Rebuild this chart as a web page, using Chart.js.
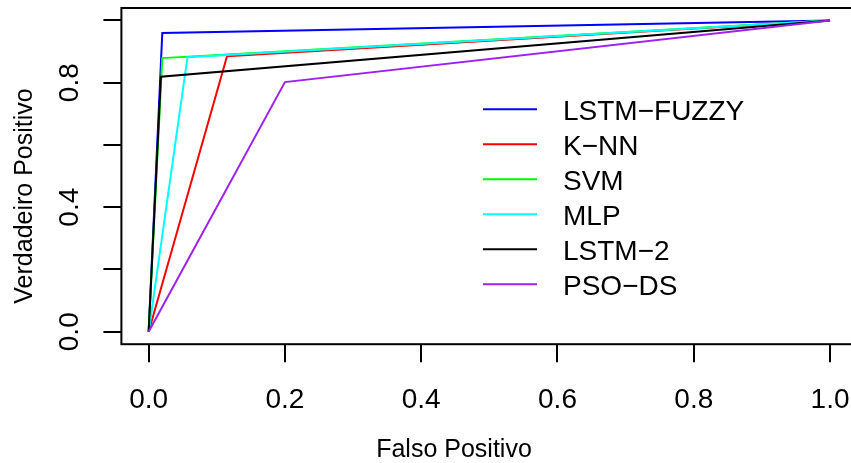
<!DOCTYPE html>
<html>
<head>
<meta charset="utf-8">
<script src="https://cdn.jsdelivr.net/npm/chart.js@4.4.0/dist/chart.umd.min.js"></script>
<style>
  html, body { margin: 0; padding: 0; background: #fff; overflow: hidden; }
  canvas { display: block; }
</style>
</head>
<body>
<canvas id="rocChart" width="860" height="463"></canvas>
<script>
// Curvas ROC
const seriesNames = ["LSTM−FUZZY", "K−NN", "SVM", "MLP", "LSTM−2", "PSO−DS"];
const seriesColors = ["#0000FF", "#FF0000", "#00FF00", "#00FFFF", "#000000", "#A020F0"];
const falsoPositivo = [
  [0, 0.02, 1],
  [0, 0.115, 1],
  [0, 0.02, 1],
  [0, 0.057, 1],
  [0, 0.018, 1],
  [0, 0.2, 1],
];
const verdadeiroPositivo = [
  [0, 0.96, 1],
  [0, 0.885, 1],
  [0, 0.879, 1],
  [0, 0.882, 1],
  [0, 0.819, 1],
  [0, 0.802, 1],
];
const xTicks = [0, 0.2, 0.4, 0.6, 0.8, 1.0];
const yTicks = [0, 0.2, 0.4, 0.6, 0.8, 1.0];
const yTickLabels = ["0.0", "", "0.4", "", "0.8", ""];
const xTitle = "Falso Positivo";
const yTitle = "Verdadeiro Positivo";

const FONT = "'Liberation Sans', Arial, sans-serif";

// Caixa, títulos dos eixos e legenda no estilo do R
const rPlotExtras = {
  id: "rPlotExtras",
  afterDraw(chart) {
    const { ctx, chartArea } = chart;
    ctx.save();
    ctx.strokeStyle = "#000";
    ctx.lineWidth = 2;
    ctx.strokeRect(chartArea.left, chartArea.top, chartArea.right - chartArea.left, chartArea.bottom - chartArea.top);

    ctx.fillStyle = "#000";
    ctx.font = "25px " + FONT;
    ctx.textAlign = "center";
    ctx.textBaseline = "alphabetic";
    ctx.fillText(xTitle, 454, 457);
    ctx.save();
    ctx.translate(32, 196);
    ctx.rotate(-Math.PI / 2);
    ctx.fillText(yTitle, 0, 0);
    ctx.restore();

    ctx.font = "28px " + FONT;
    ctx.textAlign = "left";
    chart.data.datasets.forEach((ds, i) => {
      const y = 109.3 + i * 35;
      ctx.strokeStyle = ds.borderColor;
      ctx.beginPath();
      ctx.moveTo(483, y);
      ctx.lineTo(537, y);
      ctx.stroke();
      ctx.fillText(ds.label, 563, y + 11);
    });
    ctx.restore();
  },
};

const datasets = seriesNames.map((name, i) => ({
  label: name,
  data: falsoPositivo[i].map((x, j) => ({ x: x, y: verdadeiroPositivo[i][j] })),
  borderColor: seriesColors[i],
  backgroundColor: seriesColors[i],
  borderWidth: 2,
  pointRadius: 0,
  showLine: true,
  tension: 0,
  order: seriesNames.length - i,
}));

const ctx = document.getElementById("rocChart").getContext("2d");
new Chart(ctx, {
  type: "scatter",
  data: { datasets: datasets },
  options: {
    responsive: false,
    animation: false,
    layout: { padding: { top: 8, right: 2.7, left: 0, bottom: 0 } },
    plugins: {
      legend: { display: false },
      tooltip: { enabled: false },
    },
    scales: {
      x: {
        type: "linear",
        min: -0.04,
        max: 1.04,
        afterBuildTicks: (s) => {
          s.ticks = xTicks.map((v) => ({ value: v }));
        },
        afterFit: (s) => {
          s.height = 118.8;
          s.paddingLeft = 0;
          s.paddingRight = 0;
        },
        grid: { drawOnChartArea: false, color: "#000", lineWidth: 2, tickLength: 18 },
        border: { display: false },
        ticks: {
          color: "#000",
          font: { family: FONT, size: 28 },
          padding: 21,
          maxRotation: 0,
          autoSkip: false,
          callback: (v) => v.toFixed(1),
        },
      },
      y: {
        type: "linear",
        min: -0.04,
        max: 1.04,
        afterBuildTicks: (s) => {
          s.ticks = yTicks.map((v) => ({ value: v }));
        },
        afterFit: (s) => {
          s.width = 121.4;
          s.paddingTop = 0;
          s.paddingBottom = 0;
        },
        grid: { drawOnChartArea: false, color: "#000", lineWidth: 2, tickLength: 18 },
        border: { display: false },
        ticks: {
          color: "#000",
          font: { family: FONT, size: 28 },
          padding: 13.5,
          minRotation: 90,
          maxRotation: 90,
          crossAlign: "center",
          autoSkip: false,
          callback: (v, i) => yTickLabels[i],
        },
      },
    },
  },
  plugins: [rPlotExtras],
});
</script>
</body>
</html>
